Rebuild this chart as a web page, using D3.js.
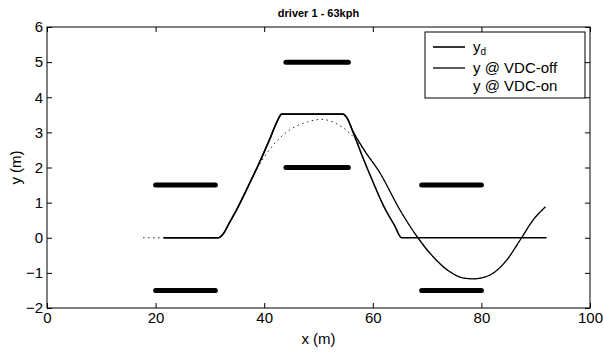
<!DOCTYPE html>
<html>
<head>
  <meta charset="utf-8">
  <title>driver 1 - 63kph</title>
  <style>
    body { margin: 0; background: #fff; }
    svg { display: block; font-family: "Liberation Sans", Arial, sans-serif; }
  </style>
</head>
<body>
<svg width="604" height="353"></svg>
<script src="https://d3js.org/d3.v7.min.js"></script>
<script>
// desired path y_d
const xDes = [21.5, 31.5, 32.5, 33.5, 35, 37, 39, 41, 42.5, 43.2, 54.5, 55.3, 56.5, 58, 60, 62, 64, 65.3, 92];
const yDes = [0, 0, 0.12, 0.4, 0.82, 1.45, 2.1, 2.8, 3.35, 3.52, 3.52, 3.4, 2.95, 2.35, 1.6, 0.9, 0.35, 0, 0];

// y @ VDC-off
const xOff = [21.5, 31.5, 32.5, 33.5, 35, 37, 39, 41, 42.5, 43.2, 54.5, 55.3, 56.2, 57.2, 58.6, 61.3, 65, 68.3, 71.1, 74.2, 76.7, 78.5, 81.6, 84.7, 87.4, 89.5, 91.8];
const yOff = [0, 0, 0.12, 0.4, 0.82, 1.45, 2.1, 2.8, 3.35, 3.52, 3.52, 3.4, 3.08, 2.8, 2.45, 1.85, 0.79, 0, -0.54, -0.97, -1.15, -1.17, -1.06, -0.63, 0, 0.5, 0.88];

// y @ VDC-on
const xOn = [17.7, 31.5, 32.5, 33.5, 35, 37, 38, 40, 42.3, 45, 48, 50.6, 53, 55.8, 58.6, 61.3, 65, 68.3, 71.1, 74.2, 76.7, 78.5, 81.6, 84.7, 87.4, 89.5, 91.8];
const yOn = [0, 0, 0.12, 0.4, 0.82, 1.45, 1.77, 2.3, 2.75, 3.1, 3.3, 3.37, 3.27, 2.97, 2.45, 1.85, 0.79, 0, -0.54, -0.97, -1.15, -1.17, -1.06, -0.63, 0, 0.5, 0.88];

// cone bars
const barStart = [20, 20, 44, 44, 69, 69];
const barEnd = [31, 31, 55.5, 55.5, 80, 80];
const barY = [1.5, -1.5, 5, 2, 1.5, -1.5];

const xTicks = [0, 20, 40, 60, 80, 100];
const yTicks = [-2, -1, 0, 1, 2, 3, 4, 5, 6];
const legendNames = ["y_d", "y @ VDC-off", "y @ VDC-on"];

var margin = {top: 27, right: 14, bottom: 45, left: 47},
    width = 604 - margin.left - margin.right,
    height = 353 - margin.top - margin.bottom;

var svg = d3.select("svg");
var chart = svg.append("g")
    .attr("transform", "translate(" + margin.left + "," + margin.top + ")");

var x = d3.scaleLinear().domain([0, 100]).range([0, width]);
var y = d3.scaleLinear().domain([-2, 6]).range([height, 0]);

// axes, ticks pointing inward like matlab
function styleAxis(g) {
  g.select(".domain").remove();
  g.selectAll("line").attr("stroke", "#000");
  g.selectAll("text").attr("fill", "#000").style("font-size", "15px");
}

chart.append("g")
    .attr("transform", "translate(0," + height + ")")
    .call(d3.axisBottom(x).tickValues(xTicks).tickSizeInner(-5).tickSizeOuter(0).tickPadding(4))
    .call(styleAxis);
chart.append("g")
    .call(d3.axisTop(x).tickValues(xTicks).tickSizeInner(-5).tickSizeOuter(0).tickFormat(""))
    .call(styleAxis);
chart.append("g")
    .call(d3.axisLeft(y).tickValues(yTicks).tickSizeInner(-5).tickSizeOuter(0).tickPadding(4))
    .call(styleAxis);
chart.append("g")
    .attr("transform", "translate(" + width + ",0)")
    .call(d3.axisRight(y).tickValues(yTicks).tickSizeInner(-5).tickSizeOuter(0).tickFormat(""))
    .call(styleAxis);

chart.append("rect")
    .attr("width", width)
    .attr("height", height)
    .attr("fill", "none")
    .attr("stroke", "#000")
    .attr("stroke-width", 1);

// bars
chart.selectAll(".bar")
  .data(barY)
  .enter().append("line")
    .attr("class", "bar")
    .attr("x1", function(d, i) { return x(barStart[i]); })
    .attr("x2", function(d, i) { return x(barEnd[i]); })
    .attr("y1", function(d) { return y(d); })
    .attr("y2", function(d) { return y(d); })
    .attr("stroke", "#000")
    .attr("stroke-width", 5)
    .attr("stroke-linecap", "round");

var line = d3.line()
    .x(function(d) { return x(d[0]); })
    .y(function(d) { return y(d[1]); })
    .curve(d3.curveMonotoneX);

function pairs(xs, ys) { return xs.map(function(v, i) { return [v, ys[i]]; }); }

chart.append("path")
    .datum(pairs(xOn, yOn))
    .attr("d", line)
    .attr("fill", "none")
    .attr("stroke", "#222")
    .attr("stroke-width", 1)
    .attr("stroke-dasharray", "1.5,3.5");

chart.append("path")
    .datum(pairs(xOff, yOff))
    .attr("d", line)
    .attr("fill", "none")
    .attr("stroke", "#000")
    .attr("stroke-width", 1.3);

chart.append("path")
    .datum(pairs(xDes, yDes))
    .attr("d", line)
    .attr("fill", "none")
    .attr("stroke", "#000")
    .attr("stroke-width", 1.6);

// title and axis labels
svg.append("text")
    .attr("x", margin.left + width / 2)
    .attr("y", 17)
    .attr("text-anchor", "middle")
    .style("font-size", "11px")
    .style("font-weight", "bold")
    .text("driver 1 -  63kph");

svg.append("text")
    .attr("x", margin.left + width / 2)
    .attr("y", 344)
    .attr("text-anchor", "middle")
    .style("font-size", "15px")
    .text("x (m)");

svg.append("text")
    .attr("transform", "translate(21," + (margin.top + height / 2) + ") rotate(-90)")
    .attr("text-anchor", "middle")
    .style("font-size", "15px")
    .text("y (m)");

// legend
var legend = svg.append("g").attr("transform", "translate(425,32)");
legend.append("rect")
    .attr("width", 160)
    .attr("height", 66)
    .attr("fill", "#fff")
    .attr("stroke", "#000")
    .attr("stroke-width", 1);

var rowY = [15, 36, 54];
legend.selectAll(".lg-line")
  .data(legendNames.slice(0, 2))
  .enter().append("line")
    .attr("x1", 8).attr("x2", 40)
    .attr("y1", function(d, i) { return rowY[i]; })
    .attr("y2", function(d, i) { return rowY[i]; })
    .attr("stroke", "#000")
    .attr("stroke-width", function(d, i) { return i == 0 ? 1.6 : 1.3; });

var lgText = legend.selectAll(".lg-text")
  .data(legendNames)
  .enter().append("text")
    .attr("x", 48)
    .attr("y", function(d, i) { return rowY[i] + 5; })
    .style("font-size", "15px");

lgText.each(function(d) {
  var t = d3.select(this);
  if (d == "y_d") {
    t.append("tspan").text("y");
    t.append("tspan").attr("dy", 3).style("font-size", "10px").text("d");
  } else {
    t.text(d);
  }
});
</script>
</body>
</html>
